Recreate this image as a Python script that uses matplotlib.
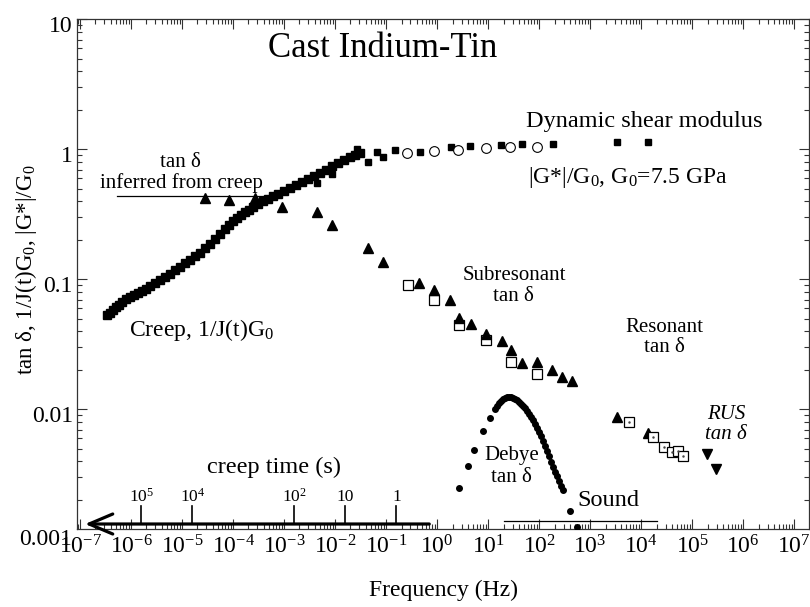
import numpy as np
import matplotlib
matplotlib.use("Agg")
import matplotlib.pyplot as plt
import matplotlib.transforms as mtransforms
from matplotlib.ticker import LogLocator, FixedLocator, FixedFormatter, NullFormatter

plt.rcParams['font.family'] = ['Liberation Serif', 'DejaVu Serif']
plt.rcParams['mathtext.fontset'] = 'custom'
plt.rcParams['mathtext.rm'] = 'Liberation Serif'
plt.rcParams['mathtext.it'] = 'Liberation Serif:italic'
plt.rcParams['mathtext.bf'] = 'Liberation Serif:bold'

# ---------------- data ----------------
# Creep, 1/J(t)G0 (filled squares)
creep_freq_hz = [3.38e-7, 3.87e-7, 4.44e-7, 5.08e-7, 5.82e-7, 6.67e-7, 7.98e-7, 9.55e-7, 1.15e-6, 1.37e-6,
                 1.64e-6, 1.97e-6, 2.36e-6, 2.96e-6, 3.71e-6, 4.65e-6, 5.82e-6, 7.29e-6, 9.14e-6, 1.15e-5,
                 1.44e-5, 1.80e-5, 2.25e-5, 2.82e-5, 3.54e-5, 4.44e-5, 5.56e-5, 6.97e-5, 8.36e-5, 1.00e-4,
                 1.20e-4, 1.44e-4, 1.72e-4, 2.06e-4, 2.47e-4, 3.09e-4, 3.87e-4, 4.85e-4, 6.08e-4, 7.62e-4,
                 1.00e-3, 1.31e-3, 1.72e-3, 2.25e-3, 2.96e-3, 3.87e-3, 5.08e-3, 6.67e-3, 8.73e-3, 1.15e-2,
                 1.50e-2, 1.97e-2, 2.47e-2, 3.09e-2]
creep_ratio = [0.0533, 0.0552, 0.0582, 0.0614, 0.0637, 0.0671, 0.0708, 0.0733, 0.0760, 0.0787,
               0.0817, 0.0845, 0.0891, 0.0940, 0.0991, 0.104, 0.110, 0.118, 0.125, 0.134,
               0.141, 0.152, 0.160, 0.175, 0.187, 0.205, 0.224, 0.244, 0.262, 0.282,
               0.297, 0.313, 0.330, 0.343, 0.361, 0.381, 0.402, 0.416, 0.439, 0.455,
               0.480, 0.506, 0.533, 0.562, 0.593, 0.625, 0.659, 0.695, 0.746, 0.787,
               0.830, 0.875, 0.908, 0.940]

# Dynamic shear modulus |G*|/G0: filled squares and open circles
dyn_sq_freq_hz = [4.44e-3, 8.73e-3, 2.70e-2, 4.44e-2, 6.67e-2, 8.73e-2, 0.150, 0.465, 1.88, 4.44,
                  18.0, 46.4, 188, 3380, 13700]
dyn_sq_ratio = [0.552, 0.648, 1.00, 0.80, 0.957, 0.875, 0.991, 0.957, 1.045, 1.064,
                1.08, 1.10, 1.10, 1.14, 1.14]
dyn_circ_freq_hz = [0.258, 0.873, 2.58, 9.14, 27.0, 91.4]
dyn_circ_ratio = [0.940, 0.973, 0.991, 1.03, 1.045, 1.045]

# tan delta inferred from creep (filled up-triangles)
creep_tan_freq_hz = [2.82e-5, 8.36e-5, 2.70e-4, 9.14e-4, 4.44e-3, 8.73e-3, 4.44e-2, 8.73e-2]
creep_tan = [0.424, 0.409, 0.424, 0.361, 0.330, 0.262, 0.175, 0.136]

# Subresonant tan delta
subres_tri_freq_hz = [0.444, 0.873, 1.80, 2.70, 4.65, 9.14, 18.8, 28.2, 46.4, 91.4, 180, 282, 444]
subres_tri_tan = [0.094, 0.083, 0.0695, 0.0506, 0.0455, 0.0381, 0.0336, 0.0287, 0.0228, 0.0232,
                  0.0201, 0.0178, 0.0166]
subres_sq_freq_hz = [0.270, 0.873, 2.70, 9.14, 28.2, 91.4]
subres_sq_tan = [0.0908, 0.0695, 0.0447, 0.0342, 0.0232, 0.0188]

# Resonant tan delta
res_tri_freq_hz = [3380, 13700]
res_tri_tan = [8.75e-3, 6.59e-3]
res_sq_freq_hz = [5820, 17200, 28200, 40600, 53100, 66700]
res_sq_tan = [8.0e-3, 6.14e-3, 5.15e-3, 4.71e-3, 4.80e-3, 4.39e-3]

# RUS tan delta (down-triangles)
rus_freq_hz = [1.97e5, 2.96e5]
rus_tan = [4.55e-3, 3.48e-3]

# Debye tan delta (filled circles)
debye_freq_hz = [2.70, 4.06, 5.31, 7.98, 10.9, 13.7,
                 15.0, 16.4, 18.0, 19.7, 21.5, 23.6, 25.8, 28.2, 30.9, 33.8,
                 37.0, 40.6, 44.4, 48.5, 53.1, 58.2, 63.7, 69.7, 76.2, 83.5,
                 91.4, 100, 109, 120, 131, 144, 157, 172, 188, 206,
                 225, 247, 270, 296, 406, 556]
debye_tan = [2.49e-3, 3.67e-3, 4.88e-3, 6.84e-3, 8.61e-3, 1.01e-2,
             1.06e-2, 1.12e-2, 1.16e-2, 1.21e-2, 1.23e-2, 1.25e-2, 1.25e-2, 1.25e-2, 1.23e-2, 1.21e-2,
             1.18e-2, 1.14e-2, 1.10e-2, 1.06e-2, 1.03e-2, 9.73e-3, 9.23e-3, 8.75e-3, 8.30e-3, 7.73e-3,
             7.21e-3, 6.71e-3, 6.25e-3, 5.73e-3, 5.24e-3, 4.80e-3, 4.39e-3, 3.94e-3, 3.61e-3, 3.30e-3,
             3.08e-3, 2.82e-3, 2.58e-3, 2.40e-3, 1.66e-3, 1.25e-3]

# Axis tick values / labels
x_decades = list(range(-7, 8))
x_tick_labels = [r'$\mathregular{10^{%d}}$' % e for e in x_decades]
y_ticks = [0.01, 0.1, 1, 10]
y_tick_labels = ['0.01', '0.1', '1', '10']

# Reference ranges / creep-time scale
creep_tan_range_hz = [5.3e-7, 3.9e-4]
audible_range_hz = [20, 20000]
creep_arrow_hz = [0.70, 1.25e-7]
creep_times_s = [1e5, 1e4, 1e2, 10, 1]
creep_time_labels = [r'$\mathregular{10^5}$', r'$\mathregular{10^4}$', r'$\mathregular{10^2}$', '10', '1']

# ---------------- figure ----------------
fig = plt.figure(figsize=(8.1, 6.07), dpi=100)
ax = fig.add_axes([0.0951, 0.1285, 0.9037, 0.8394])
ax.set_xscale('log')
ax.set_yscale('log')
ax.set_xlim(10 ** -7.06, 10 ** 7.29)
ax.set_ylim(10 ** -2.92, 10)

k = 'black'
# creep
ax.plot(creep_freq_hz, creep_ratio, 's', ms=5.5, color=k, mec=k, zorder=3)
# dynamic modulus
ax.plot(dyn_sq_freq_hz, dyn_sq_ratio, 's', ms=5, color=k, mec=k, zorder=3)
ax.plot(dyn_circ_freq_hz, dyn_circ_ratio, 'o', ms=7, mfc='white', mec=k, mew=0.8, zorder=3)
# creep tan delta
ax.plot(creep_tan_freq_hz, creep_tan, '^', ms=7, color=k, zorder=4)
# subresonant
ax.plot(subres_sq_freq_hz, subres_sq_tan, 's', ms=7, mfc='white', mec=k, mew=0.9, zorder=3)
ax.plot(subres_tri_freq_hz, subres_tri_tan, '^', ms=7, color=k, zorder=4)
# resonant
ax.plot(res_tri_freq_hz, res_tri_tan, '^', ms=7, color=k, zorder=3)
ax.plot(res_sq_freq_hz, res_sq_tan, 's', ms=6.5, mfc='white', mec=k, mew=0.9, zorder=4)
ax.plot(res_sq_freq_hz, res_sq_tan, '.', ms=1.5, color='#444444', zorder=5)
# RUS
ax.plot(rus_freq_hz, rus_tan, 'v', ms=7, color=k, zorder=3)
# Debye
ax.plot(debye_freq_hz, debye_tan, 'o', ms=4, color=k, mec=k, zorder=3)

# axes ticks
ax.xaxis.set_major_locator(FixedLocator([10.0 ** e for e in x_decades]))
ax.xaxis.set_major_formatter(FixedFormatter(x_tick_labels))
ax.xaxis.set_minor_locator(LogLocator(base=10, subs=np.arange(2, 10), numticks=200))
ax.xaxis.set_minor_formatter(NullFormatter())
ax.yaxis.set_major_locator(FixedLocator(y_ticks))
ax.yaxis.set_major_formatter(FixedFormatter(y_tick_labels))
ax.yaxis.set_minor_locator(LogLocator(base=10, subs=np.arange(2, 10), numticks=200))
ax.yaxis.set_minor_formatter(NullFormatter())
ax.tick_params(which='both', direction='in', top=True, right=True, width=0.8, color='#333333')
ax.tick_params(which='major', length=7.5, labelsize=17)
ax.tick_params(axis='y', which='major', pad=3)
ax.tick_params(axis='x', which='major', pad=4.5)
ax.tick_params(which='minor', length=3.8)
for s in ax.spines.values():
    s.set_linewidth(0.9)
    s.set_color('#333333')

# y tick labels sit slightly below their ticks in the reference
shift = mtransforms.ScaledTranslation(0, -3.5 / 72, fig.dpi_scale_trans)
for lab in ax.get_yticklabels():
    lab.set_transform(lab.get_transform() + shift)

# bottom y label "0.001" (drawn just below the axis corner, as in the reference)
left_shift = mtransforms.ScaledTranslation(-3.5 / 72, 0, fig.dpi_scale_trans)
ylab_trans = mtransforms.blended_transform_factory(ax.transAxes, ax.transData) + left_shift
ax.text(0, 0.001, '0.001', transform=ylab_trans, ha='right', va='center', fontsize=17, clip_on=False)

ax.set_xlabel('Frequency (Hz)', fontsize=17)
ax.xaxis.set_label_coords(0.5, -0.1)
ax.set_ylabel(r'tan δ, 1/J(t)$\mathregular{G_0}$, |G*|/$\mathregular{G_0}$', fontsize=16.5)
ax.yaxis.set_label_coords(-0.052, 0.508)

# annotations
T = ax.transAxes
ax.text(0.418, 0.944, 'Cast Indium-Tin', transform=T, ha='center', va='center', fontsize=25)
ax.text(0.613, 0.799, 'Dynamic shear modulus', transform=T, ha='left', va='center', fontsize=17.5)
ax.text(0.616, 0.689, r'|G*|/$\mathregular{G_0}$, $\mathregular{G_0}$=7.5 GPa', transform=T,
        ha='left', va='center', fontsize=17)
ax.text(0.1407, 0.720, 'tan δ', transform=T, ha='center', va='center', fontsize=15)
ax.text(0.142, 0.679, 'inferred from creep', transform=T, ha='center', va='center', fontsize=15)
ax.text(0.071, 0.390, r'Creep, 1/J(t)$\mathregular{G_0}$', transform=T, ha='left', va='center', fontsize=17)
ax.text(0.597, 0.4985, 'Subresonant', transform=T, ha='center', va='center', fontsize=15)
ax.text(0.5956, 0.457, 'tan δ', transform=T, ha='center', va='center', fontsize=15)
ax.text(0.803, 0.396, 'Resonant', transform=T, ha='center', va='center', fontsize=15)
ax.text(0.803, 0.357, 'tan δ', transform=T, ha='center', va='center', fontsize=15)
ax.text(0.8866, 0.2257, 'RUS', transform=T, ha='center', va='center', fontsize=15, fontstyle='italic')
ax.text(0.8866, 0.1845, 'tan δ', transform=T, ha='center', va='center', fontsize=15, fontstyle='italic')
ax.text(0.594, 0.1433, 'Debye', transform=T, ha='center', va='center', fontsize=15)
ax.text(0.594, 0.102, 'tan δ', transform=T, ha='center', va='center', fontsize=15)
ax.text(0.684, 0.0569, 'Sound', transform=T, ha='left', va='center', fontsize=17.5)
ax.text(0.269, 0.1217, 'creep time (s)', transform=T, ha='center', va='center', fontsize=17.5)

blend = mtransforms.blended_transform_factory(ax.transData, ax.transAxes)
ax.plot(creep_tan_range_hz, [0.6536, 0.6536], color=k, lw=0.9, transform=blend)
ax.plot(audible_range_hz, [0.0157, 0.0157], color=k, lw=0.9, transform=blend)
ax.annotate('', xy=(creep_arrow_hz[1], 0.0098), xytext=(creep_arrow_hz[0], 0.0098),
            xycoords=blend, textcoords=blend,
            arrowprops=dict(arrowstyle='->,head_length=0.85,head_width=0.36', lw=2.3, color=k,
                            shrinkA=0, shrinkB=0, mutation_scale=20))
for t, lab in zip(creep_times_s, creep_time_labels):
    f = 1.0 / (2 * np.pi * t)
    ax.plot([f, f], [0.0098, 0.0451], color=k, lw=1.2, transform=blend)
    ax.text(f, 0.0628, lab, transform=blend, ha='center', va='center', fontsize=12.5)

fig.savefig('out.png', dpi=100)
